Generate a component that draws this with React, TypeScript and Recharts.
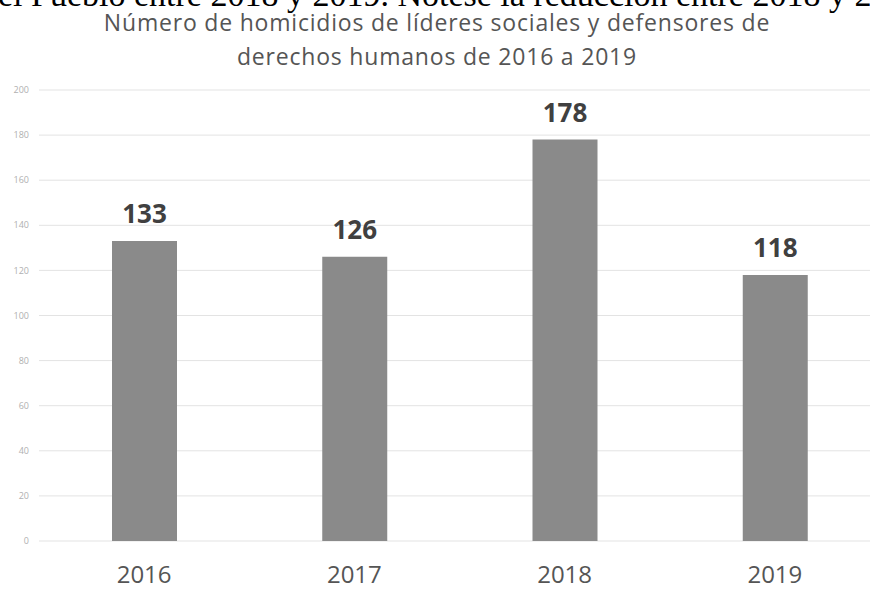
import React from 'react';
import { BarChart, Bar, XAxis, YAxis, CartesianGrid, LabelList } from 'recharts';

const years = ['2016', '2017', '2018', '2019'];
const homicides = [133, 126, 178, 118];
const yTicks = [0, 20, 40, 60, 80, 100, 120, 140, 160, 180, 200];

const clippedCaption = 'el Pueblo entre 2018 y 2019. Nótese la reducción entre 2018 y 2019.';
const titleLines = [
  'Número de homicidios de líderes sociales y defensores de',
  'derechos humanos de 2016 a 2019',
];

const data = years.map((year, i) => ({ year, value: homicides[i] }));

const XTick = ({ x, y, payload }: any) => (
  <text x={x} y={y + 34} textAnchor="middle" fill="#555" fontSize={24} fontFamily="'Open Sans', sans-serif">
    {payload.value}
  </text>
);

export default function App() {
  return (
    <div style={{ position: 'fixed', left: 0, top: 0, width: 870, height: 590, overflow: 'hidden', background: '#fff' }}>
      <div style={{ position: 'absolute', left: -2, top: -25, whiteSpace: 'nowrap', fontFamily: "'Liberation Serif', serif", fontSize: 34, lineHeight: '40px', color: '#000' }}>
        {clippedCaption}
      </div>
      <div style={{ position: 'absolute', left: 0, width: 874, top: 5, textAlign: 'center', fontFamily: "'Open Sans', sans-serif", fontSize: 23, letterSpacing: 0.8, lineHeight: '34px', color: '#555' }}>
        {titleLines.map((t) => <div key={t}>{t}</div>)}
      </div>
      <div style={{ position: 'absolute', left: 0, top: 0 }}>
        <BarChart width={880} height={590} data={data} margin={{ top: 90, right: 0, bottom: 0, left: 0 }}>
          <CartesianGrid vertical={false} stroke="#e3e3e3" />
          <XAxis dataKey="year" height={49} axisLine={false} tickLine={false} tick={<XTick />} interval={0} />
          <YAxis
            width={39}
            domain={[0, 200]}
            ticks={yTicks}
            axisLine={false}
            tickLine={false}
            tickSize={0}
            tickMargin={10}
            tick={{ fontSize: 9, fill: '#b0b0b0', fontFamily: "'Open Sans', sans-serif" }}
          />
          <Bar dataKey="value" fill="#8a8a8a" barSize={65} isAnimationActive={false}>
            <LabelList
              dataKey="value"
              position="top"
              offset={18}
              fill="#404040"
              fontSize={26}
              fontWeight="bold"
              fontFamily="'Open Sans', sans-serif"
            />
          </Bar>
        </BarChart>
      </div>
    </div>
  );
}
